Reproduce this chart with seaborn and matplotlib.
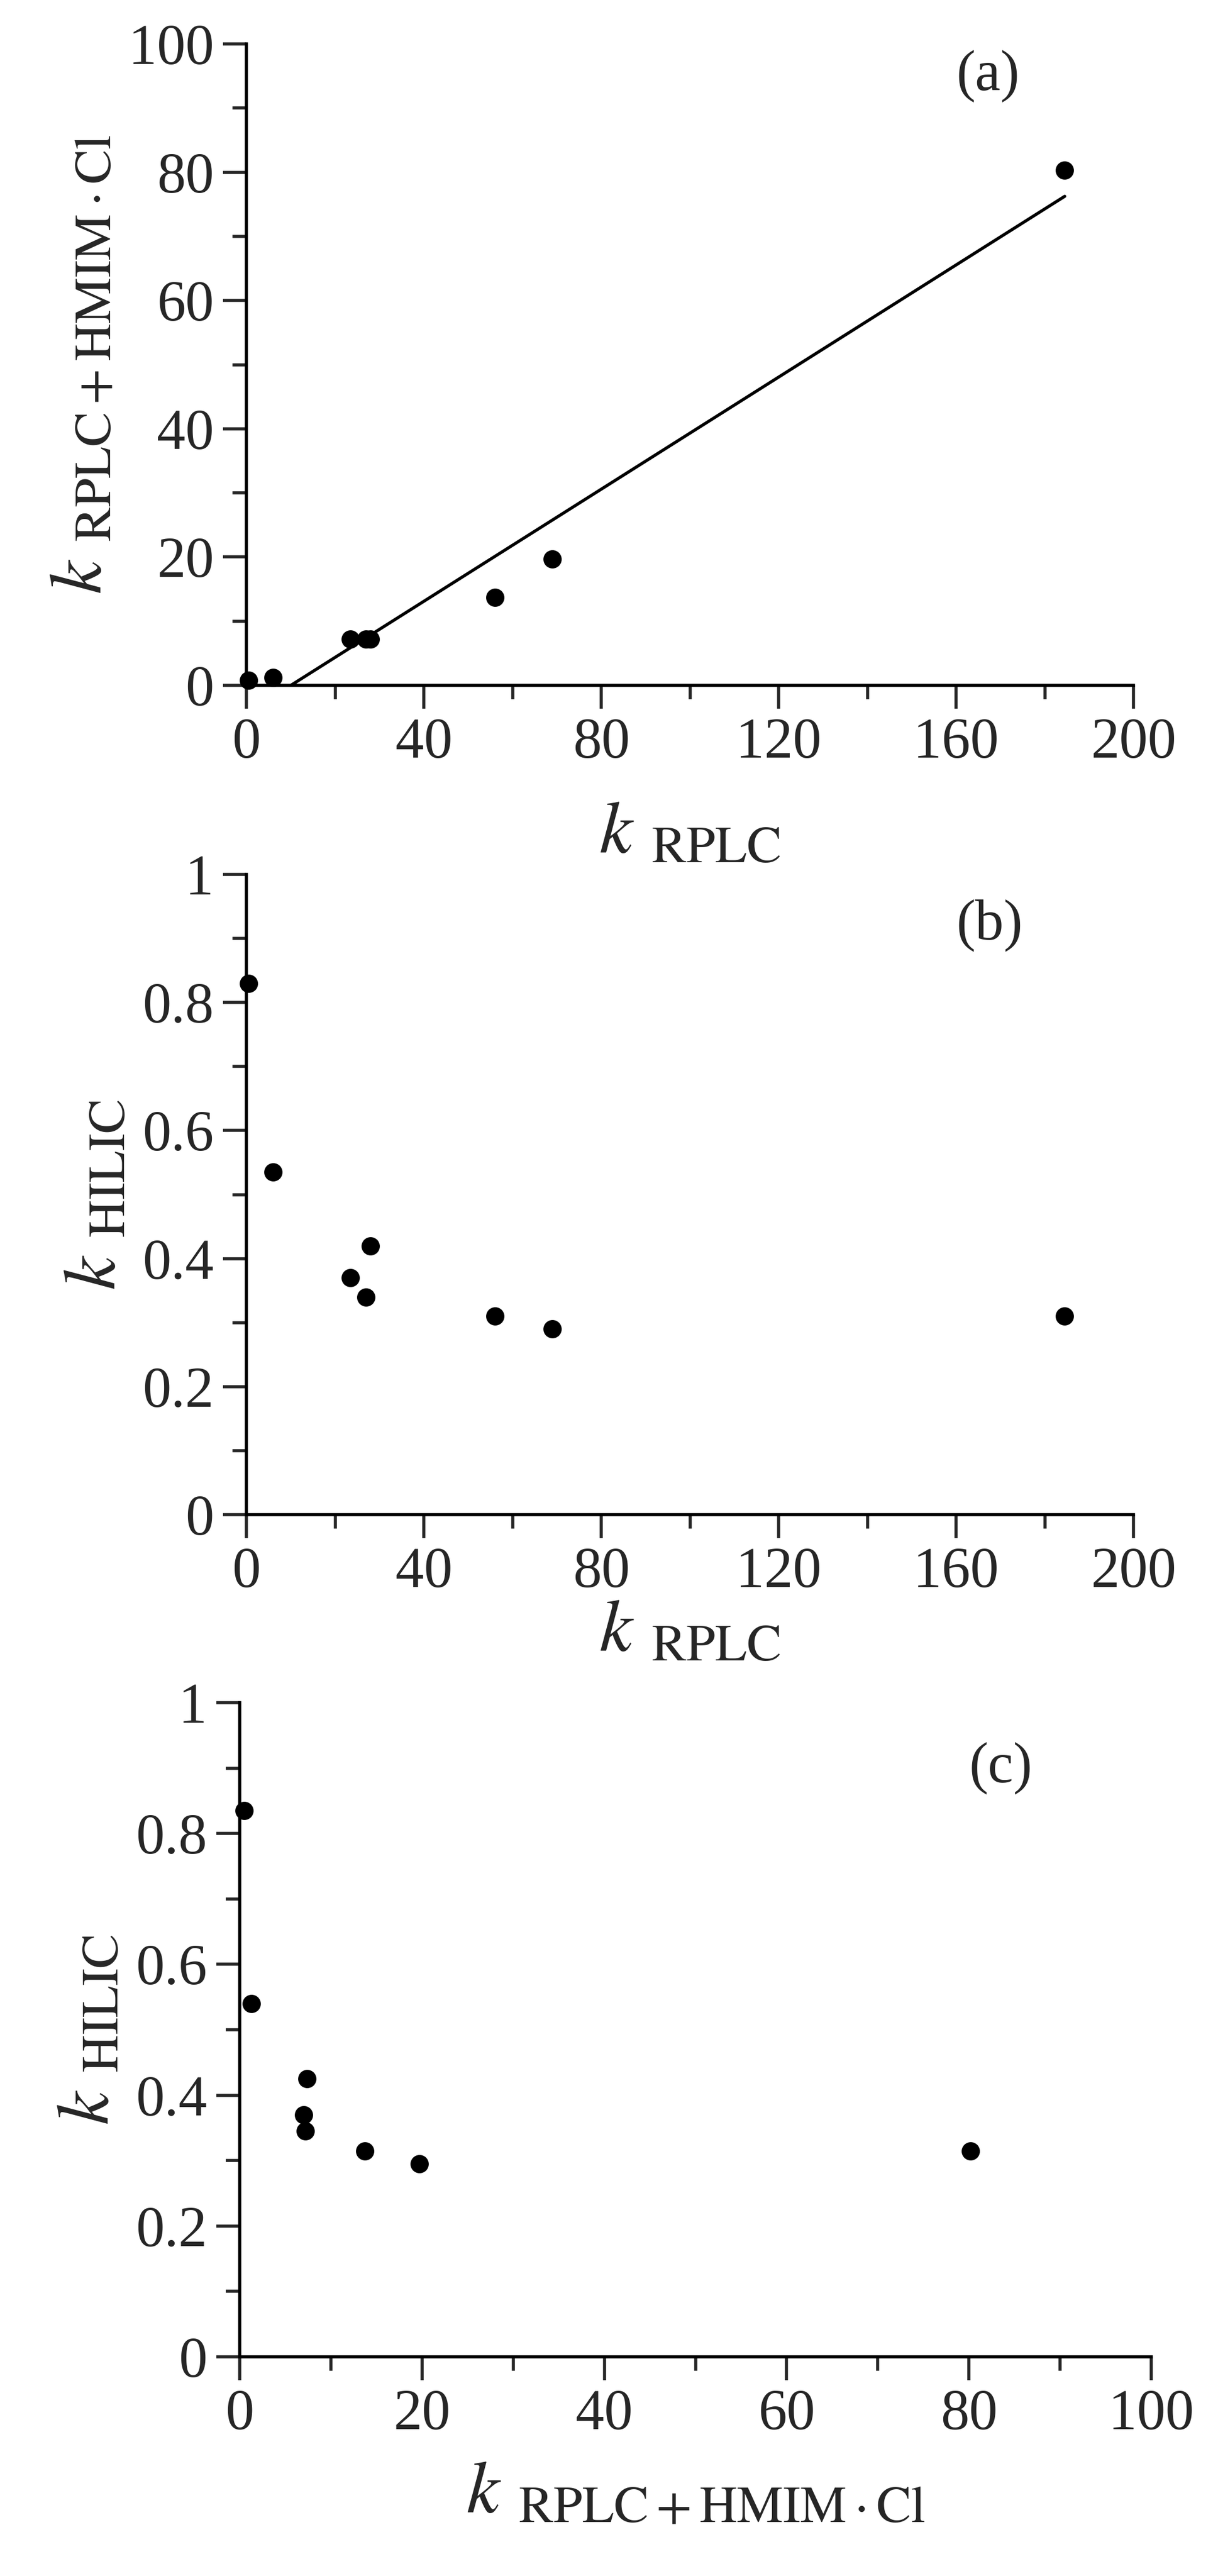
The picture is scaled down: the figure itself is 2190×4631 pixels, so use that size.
import numpy as np
import pandas as pd
import matplotlib
matplotlib.use("Agg")
import matplotlib.pyplot as plt
from matplotlib.ticker import MultipleLocator, FuncFormatter
import seaborn as sns

sns.set_style("ticks")
plt.rcParams["font.family"] = ["Liberation Serif", "DejaVu Serif"]
plt.rcParams["mathtext.fontset"] = "stix"

# retention factors
k_rplc = [0.5, 6.0, 23.5, 27.0, 28.0, 56.0, 69.0, 184.5]
k_rplc_hmim = [0.8, 1.2, 7.2, 7.2, 7.2, 13.7, 19.7, 80.3]
k_hilic_b = [0.83, 0.535, 0.37, 0.34, 0.42, 0.31, 0.29, 0.31]
k_hilic_x_c = [0.5, 1.3, 7.0, 7.2, 7.4, 13.7, 19.7, 80.2]
k_hilic_c = [0.835, 0.54, 0.37, 0.345, 0.425, 0.315, 0.295, 0.315]

FS = 74
LW = 4

fig = plt.figure(figsize=(21.9, 46.31), dpi=100)
W, H = 2190, 4631


def make_ax(l, r, t, b):
    return fig.add_axes([l / W, 1 - b / H, (r - l) / W, (b - t) / H])


def style(ax, xmaj, xmin, ymaj, ymin):
    sns.despine(ax=ax)
    for s in ["left", "bottom"]:
        ax.spines[s].set_linewidth(LW)
        ax.spines[s].set_color("black")
    ax.xaxis.set_major_locator(MultipleLocator(xmaj))
    ax.xaxis.set_minor_locator(MultipleLocator(xmin))
    ax.yaxis.set_major_locator(MultipleLocator(ymaj))
    ax.yaxis.set_minor_locator(MultipleLocator(ymin))
    ax.tick_params(which="major", length=30, width=LW, labelsize=FS, direction="out", pad=12)
    ax.tick_params(which="minor", length=18, width=LW, direction="out")
    ax.yaxis.set_major_formatter(FuncFormatter(lambda v, p: f"{v:g}"))


lab_rplc = r"$k$ $_{\mathrm{RPLC}}$"
lab_hmim = r"$k$ $_{\mathrm{RPLC+HMIM\cdot Cl}}$"
lab_hilic = r"$k$ $_{\mathrm{HILIC}}$"
LFS = FS + 22
DOT = 480

# (a)
ax = make_ax(443, 2038, 79, 1232)
df = pd.DataFrame({"x": k_rplc, "y": k_rplc_hmim})
sns.scatterplot(data=df, x="x", y="y", ax=ax, s=DOT, color="black", edgecolor="black", clip_on=False)
slope, icpt = np.polyfit(k_rplc, k_rplc_hmim, 1)
xs = np.array([-icpt / slope, max(k_rplc)])
sns.lineplot(x=xs, y=slope * xs + icpt, ax=ax, color="black", linewidth=LW)
ax.set_xlim(0, 200)
ax.set_ylim(0, 100)
style(ax, 40, 20, 20, 10)
ax.set_xlabel(lab_rplc, fontsize=LFS, labelpad=40)
ax.set_ylabel(lab_hmim, fontsize=LFS, labelpad=15)
ax.text(0.8, 0.95, "(a)", transform=ax.transAxes, fontsize=FS, va="center")

# (b)
ax = make_ax(443, 2038, 1572, 2723)
df = pd.DataFrame({"x": k_rplc, "y": k_hilic_b})
sns.scatterplot(data=df, x="x", y="y", ax=ax, s=DOT, color="black", edgecolor="black", clip_on=False)
ax.set_xlim(0, 200)
ax.set_ylim(0, 1)
style(ax, 40, 20, 0.2, 0.1)
ax.set_xlabel(lab_rplc, fontsize=LFS, labelpad=0)
ax.set_ylabel(lab_hilic, fontsize=LFS, labelpad=15)
ax.text(0.8, 0.92, "(b)", transform=ax.transAxes, fontsize=FS, va="center")

# (c)
ax = make_ax(431, 2070, 3061, 4237)
df = pd.DataFrame({"x": k_hilic_x_c, "y": k_hilic_c})
sns.scatterplot(data=df, x="x", y="y", ax=ax, s=DOT, color="black", edgecolor="black", clip_on=False)
ax.set_xlim(0, 100)
ax.set_ylim(0, 1)
style(ax, 20, 10, 0.2, 0.1)
ax.set_xlabel(lab_hmim, fontsize=LFS, labelpad=25)
ax.set_ylabel(lab_hilic, fontsize=LFS, labelpad=15)
ax.text(0.8, 0.9, "(c)", transform=ax.transAxes, fontsize=FS, va="center")

fig.savefig("out.png", dpi=100, facecolor="white")
